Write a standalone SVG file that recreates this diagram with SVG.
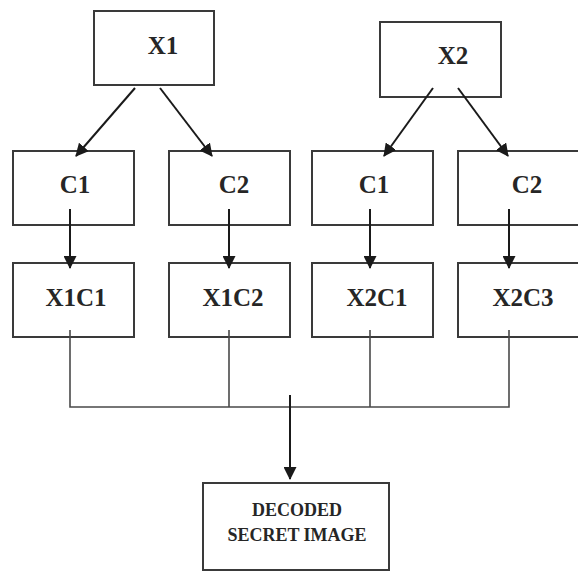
<svg xmlns="http://www.w3.org/2000/svg" width="578" height="572" viewBox="0 0 578 572">
  <style>
    .box { fill: #ffffff; stroke: #3a3a3a; stroke-width: 2; }
    .lbl { font-family: "Liberation Serif", "Times New Roman", serif; font-weight: bold; font-size: 25px; fill: #262626; text-anchor: middle; }
    .small { font-size: 18px; }
    .arrow { stroke: #1a1a1a; stroke-width: 2; fill: none; marker-end: url(#head); }
    .wire { stroke: #4a4a4a; stroke-width: 1.6; fill: none; }
  </style>
  <defs>
    <marker id="head" viewBox="0 0 13 13" refX="12" refY="6.5" markerWidth="13" markerHeight="13" markerUnits="userSpaceOnUse" orient="auto">
      <path d="M0,0 L13,6.5 L0,13 Z" fill="#1a1a1a"/>
    </marker>
  </defs>
  <rect width="578" height="572" fill="#ffffff"/>

  <g id="x1"><rect class="box" x="94" y="11" width="120" height="74"/><text class="lbl" x="163" y="54">X1</text></g>
  <g id="x2"><rect class="box" x="380" y="22" width="121" height="75"/><text class="lbl" x="453" y="64">X2</text></g>

  <g id="c1-left"><rect class="box" x="13" y="151" width="121" height="74"/><text class="lbl" x="75" y="193">C1</text></g>
  <g id="c2-left"><rect class="box" x="169" y="151" width="121" height="74"/><text class="lbl" x="234" y="193">C2</text></g>
  <g id="c1-right"><rect class="box" x="312" y="151" width="121" height="74"/><text class="lbl" x="374" y="193">C1</text></g>
  <g id="c2-right"><rect class="box" x="458" y="151" width="124" height="74"/><text class="lbl" x="527" y="193">C2</text></g>

  <g id="x1c1"><rect class="box" x="13" y="263" width="121" height="74"/><text class="lbl" x="76" y="306">X1C1</text></g>
  <g id="x1c2"><rect class="box" x="169" y="263" width="121" height="74"/><text class="lbl" x="233" y="306">X1C2</text></g>
  <g id="x2c1"><rect class="box" x="312" y="263" width="121" height="74"/><text class="lbl" x="377" y="306">X2C1</text></g>
  <g id="x2c3"><rect class="box" x="458" y="263" width="124" height="74"/><text class="lbl" x="523" y="306">X2C3</text></g>

  <g id="decoded">
    <rect class="box" x="203" y="483" width="186" height="87"/>
    <text class="lbl small" x="297" y="516">DECODED</text>
    <text class="lbl small" x="297" y="541">SECRET IMAGE</text>
  </g>

  <g id="connectors">
    <!-- splits from the two sources -->
    <line class="arrow" x1="135" y1="88" x2="76" y2="156"/>
    <line class="arrow" x1="160" y1="88" x2="212" y2="156"/>
    <line class="arrow" x1="433" y1="88" x2="384" y2="156"/>
    <line class="arrow" x1="458" y1="88" x2="508" y2="156"/>
    <!-- share to combined boxes -->
    <line class="arrow" x1="70" y1="209" x2="70" y2="268"/>
    <line class="arrow" x1="229" y1="209" x2="229" y2="268"/>
    <line class="arrow" x1="370" y1="209" x2="370" y2="268"/>
    <line class="arrow" x1="509" y1="209" x2="509" y2="268"/>
    <!-- merge bus -->
    <path class="wire" d="M70,330 V407 H509 V330 M229,330 V407 M370,330 V407"/>
    <line class="arrow" x1="290" y1="395" x2="290" y2="479"/>
  </g>
</svg>
